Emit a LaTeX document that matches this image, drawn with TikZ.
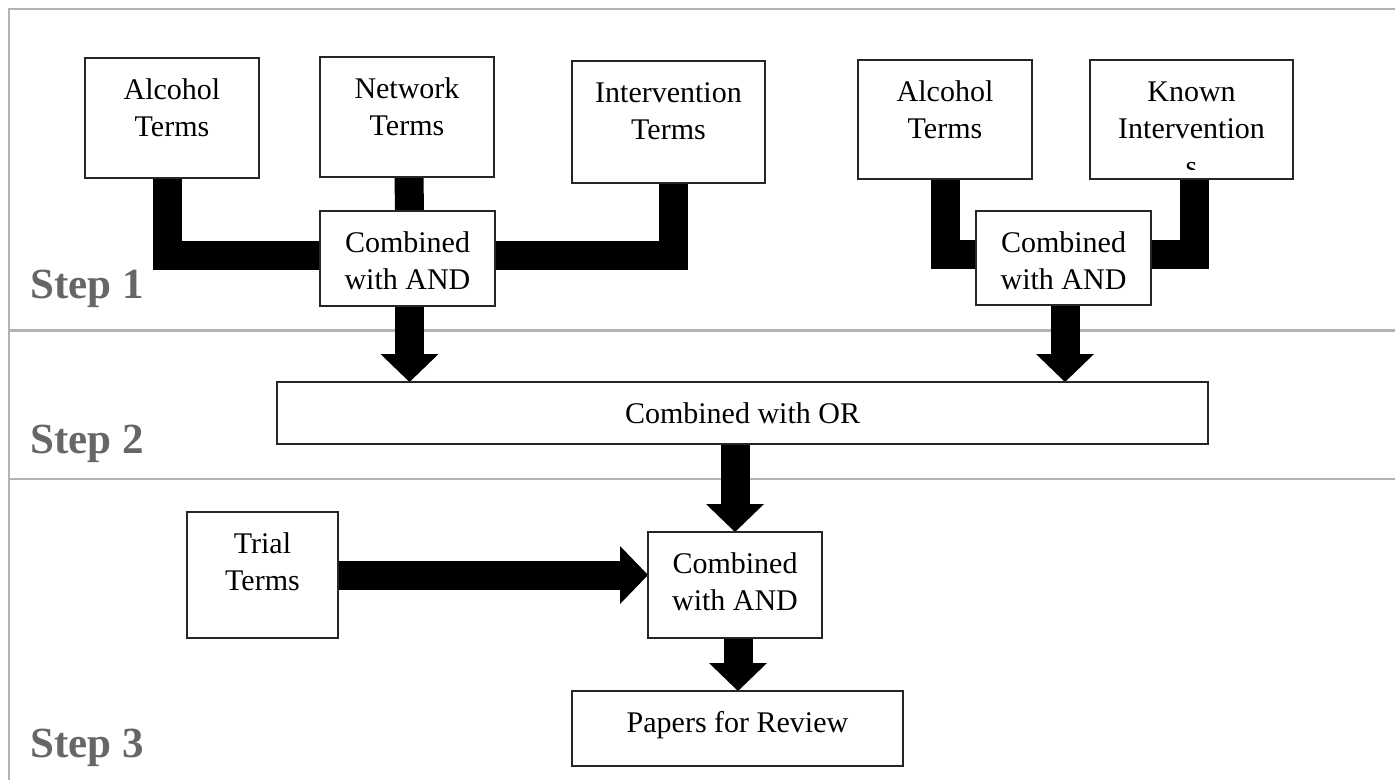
\documentclass[tikz,border=0pt]{standalone}
\usepackage{fontspec}
\setmainfont{Liberation Serif}
\usetikzlibrary{arrows.meta,backgrounds}
\newcommand\boxtext[3]{\parbox[c][#2][t]{#1}{\centering\fontsize{30}{37}\selectfont\vspace*{16pt}\strut #3}}
\begin{document}
\begin{tikzpicture}[x=1pt,y=-1pt,
  frame/.style={draw=black!30, line width=2.5pt, line join=miter},
  box/.style={draw=black!85, line width=1.5pt, fill=white, inner sep=0pt, outer sep=0pt},
  link/.style={draw=black, line width=29pt, line join=miter, line cap=butt},
  arr/.style={link, -{Triangle[width=58pt,length=28pt,line width=0pt]}},
  steplabel/.style={anchor=base west, inner sep=0pt, text=black!60, font=\fontsize{43}{50}\selectfont\bfseries},
  plain/.style={inner sep=0pt, font=\fontsize{30}{37}\selectfont}
]
\useasboundingbox (0,0) rectangle (1395,780);

% boxes
\node[box] (alc)   at (172,118)    {\boxtext{174pt}{120pt}{Alcohol\\Terms}};
\node[box] (net)   at (407,117)    {\boxtext{174pt}{120pt}{Network\\Terms}};
\node[box] (int)   at (668.5,122)  {\boxtext{193pt}{122pt}{Intervention\\Terms}};
\node[box] (c1)    at (407.5,258.5){\boxtext{175pt}{95pt}{Combined\\with AND}};
\node[box] (alc2)  at (945,119.5)  {\boxtext{174pt}{119pt}{Alcohol\\Terms}};
\node[box] (known) at (1191.5,119.5){\boxtext{203pt}{119pt}{Known\\Intervention}};
\node[box] (c2)    at (1063.5,258) {\boxtext{175pt}{94pt}{Combined\\with AND}};
\node[box] (or)    at (742.5,413)  {\boxtext{931pt}{62pt}{Combined with OR}};
\node[box] (trial) at (262.5,575)  {\boxtext{151pt}{126pt}{Trial\\Terms}};
\node[box] (c3)    at (735,585)    {\boxtext{174pt}{106pt}{Combined\\with AND}};
\node[box] (pap)   at (737.5,728.5){\boxtext{331pt}{75pt}{Papers for Review}};

\begin{scope}
  \clip (1092,150) rectangle (1291,169);
  \node[plain, anchor=base] (kns) at (1191.5,176) {s};
\end{scope}

% step labels
\node[steplabel] (s1) at (30,298) {Step 1};
\node[steplabel] (s2) at (30,453) {Step 2};
\node[steplabel] (s3) at (30,757) {Step 3};

\begin{scope}[on background layer]
  % frame
  \draw[frame] (9,780) -- (9,9) -- (1395,9);
  \draw[frame] (9,330.5) -- (1395,330.5);
  \draw[frame] (9,479) -- (1395,479);
  % step 1 links
  \draw[link] ([xshift=-4.5pt]alc.south) |- ([yshift=3pt]c1.west);
  \draw[link] ([xshift=2pt]net.south) -- ([xshift=2pt]c1.north);
  \draw[link] ([xshift=4.5pt]int.south) |- ([yshift=3pt]c1.east);
  \draw[link] (alc2.south) |- ([yshift=4pt]c2.west);
  \draw[link] ([xshift=3pt]known.south) |- ([yshift=4pt]c2.east);
  % arrows
  \draw[arr] ([xshift=2pt]c1.south) -- ([xshift=2pt]c1.south |- or.north);
  \draw[arr] ([xshift=1.5pt]c2.south) -- ([xshift=1.5pt]c2.south |- or.north);
  \draw[arr] (c3.north |- or.south) -- (c3.north);
  \draw[arr] ([xshift=3pt]c3.south) -- ([xshift=3pt]c3.south |- pap.north);
  \draw[arr] (trial.east) -- (trial.east -| c3.west);
\end{scope}
\end{tikzpicture}
\end{document}
